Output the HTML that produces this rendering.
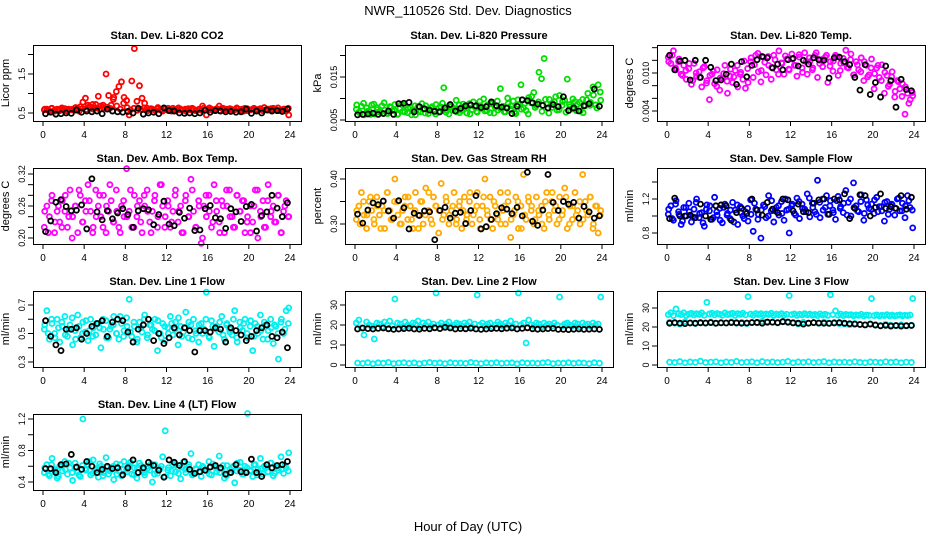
<!DOCTYPE html>
<html><head><meta charset="utf-8"><style>
body{margin:0;background:#fff}
svg{display:block;font-family:"Liberation Sans",sans-serif}
</style></head><body>
<svg id="chart" width="936" height="540" viewBox="0 0 936 540">
<text x="468" y="15" font-size="13" text-anchor="middle">NWR_110526  Std. Dev. Diagnostics</text>
<text x="468" y="531" font-size="13" text-anchor="middle">Hour of Day (UTC)</text>
</svg>
<script>
const xTicks=[0,4,8,12,16,20,24];
const co2Col=[0.58,0.6,0.55,0.62,0.57,0.6,0.56,0.59,0.61,0.55,0.58,0.6,0.57,0.62,0.66,0.78,0.88,0.7,0.65,0.6,0.72,0.93,0.68,0.64,1.5,0.95,0.7,0.9,1.05,1.18,1.3,0.9,0.82,0.45,1.32,2.15,0.8,1.2,0.88,0.75,0.62,0.58,0.6,0.57,0.61,0.58,0.55,0.6,0.57,0.59,0.62,0.56,0.58,0.6,0.57,0.55,0.61,0.58,0.6,0.56,0.59,0.57,0.62,0.45,0.58,0.6,0.57,0.61,0.68,0.62,0.58,0.6,0.56,0.59,0.58,0.61,0.57,0.6,0.62,0.56,0.58,0.6,0.57,0.59,0.61,0.56,0.58,0.6,0.57,0.62,0.59,0.56,0.58,0.6,0.55,0.45];
const co2ColB=[0.6,0.57,0.62,0.55,0.59,0.63,0.56,0.6,0.58,0.64,0.55,0.61,0.59,0.66,0.72,0.63,0.6,0.7,0.65,0.62,0.85,0.68,0.6,0.75,0.64,0.58,0.62,0.57,0.6,0.63,0.56,0.61,0.58,0.64,0.57,0.6,0.62,0.55,0.59,0.63,0.57,0.6,0.58,0.62,0.56,0.6,0.68,0.59,0.63,0.57,0.6,0.56,0.62,0.58,0.61,0.57,0.63,0.59,0.55,0.61,0.58,0.62,0.56,0.6,0.64,0.57,0.61,0.59,0.63,0.56,0.6,0.62];
const co2Blk=[0.48,0.52,0.47,0.48,0.5,0.49,0.58,0.52,0.55,0.53,0.55,0.48,0.6,0.55,0.53,0.52,0.54,0.5,0.62,0.47,0.5,0.52,0.48,0.63,0.56,0.55,0.5,0.49,0.5,0.48,0.5,0.57,0.52,0.56,0.55,0.53,0.54,0.52,0.53,0.6,0.49,0.55,0.5,0.58,0.55,0.56,0.54,0.6];
const presCol=[0.0075,0.0068,0.0082,0.0062,0.0078,0.0071,0.0085,0.0064,0.0079,0.0069,0.0083,0.0073,0.0066,0.0081,0.0072,0.0086,0.0063,0.0077,0.007,0.0084,0.0067,0.0079,0.0074,0.0062,0.0081,0.0069,0.0076,0.0083,0.0065,0.0078,0.0071,0.0086,0.0068,0.008,0.0125,0.0073,0.0064,0.0082,0.0077,0.0069,0.0085,0.0072,0.0079,0.0066,0.0088,0.0074,0.0081,0.0068,0.0093,0.0076,0.0071,0.0085,0.0067,0.0091,0.0079,0.0073,0.0123,0.0082,0.0069,0.0088,0.0075,0.0094,0.0065,0.0086,0.0132,0.0078,0.0072,0.0102,0.009,0.0114,0.0083,0.0161,0.0146,0.0193,0.0087,0.0098,0.0079,0.0092,0.0073,0.0107,0.0084,0.0096,0.0145,0.0081,0.0076,0.0093,0.0087,0.0071,0.0098,0.0083,0.0112,0.0091,0.0127,0.0085,0.0132,0.0096];
const presColB=[0.0085,0.0066,0.0089,0.007,0.0063,0.0087,0.0074,0.0068,0.009,0.0065,0.0079,0.0072,0.0064,0.0086,0.0069,0.0077,0.0062,0.0083,0.0071,0.0088,0.0066,0.0075,0.0081,0.0064,0.0079,0.0089,0.0068,0.0084,0.0073,0.0096,0.0067,0.0087,0.0078,0.0064,0.0092,0.007,0.0083,0.0099,0.0072,0.0088,0.0066,0.0094,0.0076,0.0069,0.0101,0.0083,0.0068,0.0097,0.0075,0.0089,0.0064,0.0105,0.0079,0.0092,0.007,0.0098,0.0066,0.0088,0.0104,0.0074,0.0093,0.0068,0.0086,0.0099,0.0072,0.0091,0.0067,0.0097,0.0084,0.0108,0.0078,0.0115];
const presBlk=[0.0062,0.0063,0.0064,0.0066,0.0063,0.0065,0.0071,0.0063,0.0088,0.0089,0.0091,0.0069,0.0081,0.0076,0.0073,0.007,0.0069,0.0078,0.0086,0.0071,0.0077,0.0083,0.0085,0.0083,0.0079,0.0081,0.0092,0.0083,0.008,0.0078,0.0065,0.0082,0.0097,0.0095,0.009,0.0087,0.0084,0.0078,0.0086,0.0081,0.0104,0.0072,0.0078,0.0071,0.0083,0.0088,0.0122,0.0082];
const tempCol=[0.0125,0.0115,0.0135,0.0105,0.0118,0.0098,0.0112,0.009,0.0107,0.0082,0.0115,0.0095,0.0102,0.0078,0.011,0.0088,0.0058,0.0098,0.0083,0.0105,0.0073,0.0092,0.0112,0.0068,0.0095,0.0085,0.0104,0.0078,0.0098,0.009,0.0076,0.0085,0.0118,0.0093,0.0128,0.0102,0.0086,0.0125,0.0097,0.0112,0.009,0.0128,0.0105,0.0135,0.0116,0.0098,0.0122,0.0105,0.013,0.0112,0.0095,0.0125,0.0108,0.0132,0.0098,0.0118,0.0105,0.0128,0.0093,0.012,0.011,0.0125,0.0085,0.0118,0.0103,0.0128,0.0096,0.0115,0.0123,0.0136,0.0108,0.013,0.0097,0.0118,0.0105,0.0124,0.0088,0.0112,0.0097,0.0122,0.0075,0.0108,0.0093,0.0113,0.0068,0.0096,0.0082,0.0102,0.0062,0.0088,0.0075,0.0083,0.0035,0.0068,0.0058,0.0064];
const tempColB=[0.0118,0.0128,0.0108,0.0122,0.0096,0.0104,0.0115,0.0088,0.01,0.0093,0.0108,0.0084,0.0096,0.0103,0.0079,0.0092,0.0099,0.0087,0.0106,0.0094,0.0112,0.0101,0.0119,0.0107,0.0124,0.0113,0.0131,0.0104,0.0117,0.0126,0.0109,0.0121,0.0098,0.0115,0.0127,0.0106,0.0122,0.0112,0.0129,0.0101,0.0118,0.0124,0.0108,0.0132,0.0115,0.0122,0.0128,0.0111,0.0119,0.0126,0.0104,0.0116,0.0109,0.0121,0.0097,0.0113,0.0102,0.0118,0.0094,0.0108,0.0099,0.0112,0.0088,0.0101,0.0079,0.0094,0.0071,0.0086,0.0063,0.0078,0.0052,0.0069];
const tempBlk=[0.0128,0.0105,0.0119,0.012,0.0089,0.012,0.0093,0.012,0.0109,0.0088,0.0089,0.0098,0.0114,0.0082,0.0118,0.0094,0.0112,0.0121,0.0126,0.0124,0.0108,0.0114,0.0105,0.0121,0.0123,0.0111,0.012,0.0114,0.0124,0.0121,0.012,0.0092,0.0124,0.0125,0.0118,0.0113,0.0093,0.0073,0.0113,0.0066,0.0085,0.0062,0.0111,0.0088,0.0046,0.009,0.0074,0.0072];
const ambCol=[0.22,0.26,0.24,0.28,0.21,0.25,0.23,0.27,0.25,0.22,0.29,0.24,0.26,0.21,0.28,0.23,0.27,0.3,0.25,0.22,0.29,0.26,0.24,0.28,0.21,0.25,0.27,0.23,0.29,0.22,0.26,0.24,0.33,0.25,0.22,0.28,0.24,0.27,0.21,0.26,0.29,0.23,0.25,0.28,0.22,0.3,0.26,0.24,0.27,0.22,0.25,0.29,0.23,0.26,0.21,0.28,0.24,0.31,0.25,0.22,0.27,0.19,0.26,0.24,0.28,0.22,0.3,0.25,0.23,0.27,0.21,0.26,0.29,0.24,0.22,0.28,0.25,0.27,0.21,0.24,0.26,0.23,0.29,0.2,0.25,0.27,0.22,0.3,0.24,0.26,0.23,0.28,0.21,0.25,0.27,0.24];
const ambColB=[0.25,0.21,0.27,0.23,0.26,0.22,0.28,0.24,0.2,0.26,0.29,0.23,0.25,0.27,0.21,0.24,0.28,0.22,0.26,0.3,0.23,0.25,0.21,0.27,0.24,0.29,0.22,0.26,0.23,0.28,0.25,0.21,0.27,0.24,0.3,0.22,0.26,0.23,0.28,0.25,0.21,0.27,0.24,0.29,0.22,0.26,0.2,0.28,0.25,0.23,0.27,0.21,0.26,0.29,0.24,0.22,0.28,0.25,0.27,0.23,0.21,0.26,0.29,0.24,0.22,0.27,0.25,0.23,0.28,0.21,0.26,0.24];
const ambBlk=[0.212,0.232,0.267,0.272,0.259,0.251,0.252,0.262,0.217,0.311,0.249,0.234,0.251,0.236,0.247,0.255,0.244,0.22,0.251,0.255,0.253,0.225,0.244,0.269,0.226,0.223,0.248,0.237,0.256,0.214,0.215,0.255,0.261,0.238,0.236,0.218,0.255,0.249,0.231,0.259,0.263,0.213,0.242,0.249,0.28,0.256,0.24,0.266];
const rhCol=[0.31,0.34,0.37,0.32,0.29,0.35,0.33,0.3,0.36,0.32,0.34,0.29,0.37,0.33,0.31,0.4,0.35,0.3,0.33,0.36,0.31,0.34,0.29,0.37,0.32,0.35,0.3,0.38,0.33,0.31,0.36,0.34,0.28,0.39,0.32,0.35,0.3,0.33,0.37,0.31,0.34,0.29,0.36,0.32,0.35,0.3,0.33,0.37,0.31,0.34,0.4,0.32,0.36,0.29,0.34,0.31,0.37,0.33,0.3,0.35,0.27,0.32,0.36,0.29,0.34,0.41,0.31,0.35,0.33,0.3,0.36,0.32,0.34,0.29,0.37,0.31,0.35,0.33,0.3,0.36,0.32,0.38,0.29,0.34,0.31,0.37,0.33,0.3,0.41,0.35,0.32,0.36,0.29,0.34,0.28,0.33];
const rhColB=[0.33,0.3,0.35,0.32,0.36,0.31,0.34,0.29,0.33,0.37,0.31,0.35,0.32,0.3,0.34,0.36,0.31,0.33,0.29,0.35,0.32,0.37,0.3,0.34,0.33,0.31,0.36,0.32,0.34,0.3,0.35,0.33,0.31,0.37,0.32,0.34,0.29,0.36,0.33,0.31,0.35,0.32,0.3,0.34,0.37,0.31,0.33,0.35,0.29,0.32,0.36,0.34,0.31,0.33,0.3,0.35,0.32,0.37,0.34,0.31,0.33,0.36,0.3,0.34,0.32,0.35,0.31,0.33,0.36,0.3,0.34,0.32];
const rhBlk=[0.322,0.302,0.331,0.347,0.343,0.351,0.329,0.313,0.352,0.336,0.289,0.324,0.319,0.329,0.327,0.265,0.33,0.337,0.313,0.324,0.326,0.301,0.33,0.363,0.289,0.294,0.31,0.323,0.336,0.333,0.323,0.337,0.318,0.415,0.306,0.297,0.331,0.41,0.348,0.33,0.35,0.344,0.348,0.313,0.339,0.327,0.313,0.318];
const flowCol=[1.02,1.12,0.95,1.18,1.05,0.9,1.1,1.0,1.15,0.93,1.08,1.2,0.98,1.04,0.88,1.13,1.06,0.96,1.22,1.01,1.09,0.92,1.14,1.03,0.97,1.16,1.07,0.9,1.11,1.0,1.05,0.94,1.19,0.82,1.08,1.02,0.74,1.13,0.98,1.24,1.06,0.93,1.1,1.01,1.17,0.95,1.07,0.8,1.12,1.03,1.21,0.97,1.14,1.08,1.26,0.99,1.15,1.05,1.42,0.98,1.2,1.1,1.02,1.18,1.07,0.96,1.23,1.11,1.04,1.3,1.16,1.0,1.39,1.12,1.05,1.25,0.95,1.19,1.09,1.14,1.03,1.22,1.11,1.06,0.94,1.17,1.08,1.13,1.01,1.2,1.06,1.15,0.98,1.24,1.1,0.86];
const flowColB=[1.08,0.97,1.14,1.02,0.94,1.1,1.05,0.99,1.16,1.03,0.92,1.08,1.12,0.98,1.05,0.95,1.1,1.01,1.07,0.93,1.13,1.04,0.97,1.09,1.02,1.15,0.96,1.07,1.11,1.0,1.18,1.06,1.12,1.03,1.2,1.08,1.14,1.01,1.17,1.09,1.05,1.21,1.1,1.02,1.16,1.07,1.24,1.12,1.04,1.18,1.09,1.15,1.01,1.2,1.1,1.06,1.17,1.03,1.13,1.08,1.19,1.05,1.11,1.16,1.02,1.14,1.09,1.21,1.06,1.12,1.18,1.07];
const flowBlk=[0.97,1.21,1.0,1.0,1.01,0.98,1.14,1.0,0.96,1.12,1.13,1.12,0.95,1.04,1.09,1.03,1.2,1.07,1.01,1.16,1.08,1.04,1.2,1.19,1.06,1.14,1.05,1.04,1.15,1.19,1.2,1.02,1.2,1.19,1.26,0.97,1.09,1.25,1.24,1.0,1.1,1.26,1.09,1.11,1.09,1.24,1.08,1.22];
const line1Col=[0.53,0.66,0.46,0.57,0.5,0.6,0.44,0.55,0.62,0.48,0.56,0.42,0.52,0.63,0.47,0.58,0.51,0.45,0.6,0.54,0.49,0.57,0.4,0.53,0.59,0.47,0.55,0.62,0.5,0.46,0.57,0.52,0.61,0.74,0.48,0.55,0.44,0.58,0.51,0.63,0.47,0.56,0.53,0.6,0.38,0.5,0.57,0.45,0.54,0.62,0.49,0.58,0.42,0.55,0.51,0.65,0.47,0.56,0.6,0.5,0.44,0.57,0.53,0.79,0.48,0.59,0.41,0.55,0.51,0.62,0.46,0.57,0.53,0.49,0.66,0.44,0.58,0.52,0.6,0.47,0.55,0.38,0.57,0.5,0.63,0.46,0.56,0.52,0.6,0.43,0.55,0.32,0.58,0.5,0.66,0.68];
const line1ColB=[0.56,0.5,0.6,0.47,0.54,0.58,0.49,0.53,0.61,0.46,0.55,0.5,0.59,0.52,0.48,0.57,0.54,0.6,0.47,0.53,0.56,0.5,0.62,0.48,0.55,0.51,0.58,0.46,0.54,0.6,0.49,0.56,0.52,0.59,0.47,0.55,0.5,0.57,0.53,0.61,0.48,0.54,0.58,0.46,0.52,0.56,0.5,0.6,0.47,0.55,0.53,0.58,0.49,0.56,0.51,0.6,0.47,0.54,0.57,0.5,0.59,0.48,0.55,0.52,0.58,0.46,0.54,0.56,0.5,0.6,0.53,0.57];
const line1Blk=[0.59,0.48,0.42,0.38,0.53,0.53,0.54,0.46,0.5,0.55,0.57,0.59,0.48,0.58,0.6,0.59,0.51,0.44,0.53,0.56,0.6,0.45,0.5,0.43,0.47,0.54,0.49,0.54,0.52,0.37,0.52,0.52,0.51,0.54,0.53,0.44,0.54,0.52,0.49,0.45,0.48,0.52,0.54,0.56,0.48,0.47,0.51,0.4];
const line2Hi=[21,22.5,18.5,15,21.5,20,19.5,13,21,20.5,19,21.5,20,22,19.5,33,21,20.5,19,21.5,20,19.5,21,20.5,22,19,21,20,21.5,19.5,20.5,36,20,21,19.5,20.5,21.5,19,20,21,20.5,19.5,21,20,21.5,19,20.5,35,20,21,19.5,20.5,21,19,20,21.5,20.5,19.5,21,20,22,19,20.5,36,20,21,11,22.5,20,19.5,21,20.5,19,21,20,20.5,19.5,21,20,34,19.5,20.5,21,20,19.5,21,20.5,19,21,20,20.5,19.5,21,20,20.5,34];
const line2Lo=[1,0.8,1.2,0.6,1.1,0.9,1.3,0.7,1,1.2,0.8,1.1,0.6,1,1.3,0.9,1.1,0.7,1.2,0.9,1,0.8,1.3,1,0.7,1.1,0.9,1.2,0.8,1,1.1,0.6,1.2,0.9,1,0.8,1.1,1.3,0.7,1,0.9,1.2,0.8,1.1,1,0.7,1.2,0.9];
const line2Blk=[18,18.5,18.2,18,18.3,18.5,18.1,17.8,18,18.2,18.4,18,17.9,18.3,18.1,18.6,18.2,18.8,18.5,18,18.2,18.1,18.4,18,17.8,18,18.2,18.3,18.1,18.4,18.5,18,18.3,18.6,18.1,17.9,18,18.2,18.3,17.8,17.8,17.7,17.9,18,17.8,17.9,18,17.8];
const line3Hi=[26.5,27.5,26,29.5,27,26.5,27.5,26,26.8,27.2,26.3,27,26.6,27.4,26.2,33,26.9,27.3,26.4,27.1,26.7,26.2,27.4,26.5,26.9,27.2,26.1,27,26.6,27.3,26.4,36,26.8,26.2,27.1,26.5,27,26.3,26.9,26.6,27.2,26.1,26.8,26.4,27,26.2,26.7,36.5,26.5,26.9,26.1,26.7,26.3,27,26.4,26.8,26.2,26.6,26,26.9,26.3,26.7,26.1,37,26.5,28.5,26.2,26.8,26,26.6,26.3,26.5,25.9,26.4,26.1,26.7,25.8,26.3,26.1,35,26,26.4,25.8,26.2,26,26.5,25.9,26.3,25.8,26.1,26.4,25.9,26.2,26,26.3,35];
const line3Mid=[22.5,22,21.5,22.8,22.2,21.8,22.4,22,22.6,21.9,22.3,22.1,22.7,22,22.4,21.8,22.5,22.2,23,22.3,22.6,22.1,22.8,22.4,22.2,21.6,22.5,22,22.3,21.9,22.6,22.1,22.4,21.8,21.6,21.2,21.9,21.4,21.1,21.7,21.3,20.8,21.4,21,20.7,21.2,20.6,21];
const line3Lo=[1.5,1.3,1.8,1.2,1.6,1.4,2,1.3,1.5,1.7,1.2,1.6,1.4,1.9,1.3,1.5,1.7,1.2,1.8,1.4,1.6,1.3,1.5,1.9,1.2,1.6,1.4,1.7,1.3,1.5,1.8,1.2,1.6,1.4,1.5,1.3,1.7,1.4,1.2,1.6,1.5,1.3,1.7,1.4,1.6,1.2,1.5,1.4];
const line3Blk=[22,22.3,22,21.8,22.1,22,22.2,22.1,22.3,22,22.2,22.1,22.3,22.2,22,22.1,22.3,22.4,22,22.6,22.5,22.3,22.8,22.6,22.2,22,21.5,22,22.3,22.1,22,21.9,22.1,22.3,22,21.7,21.5,21.3,21.1,21.5,21,20.6,20.9,20.5,20.8,20.5,20.7,20.8];
const line4Col=[0.52,0.62,0.48,0.7,0.56,0.45,0.6,0.54,0.66,0.5,0.58,0.42,0.64,0.53,0.47,1.2,0.57,0.62,0.49,0.68,0.55,0.46,0.6,0.52,0.71,0.5,0.57,0.43,0.63,0.54,0.48,0.66,0.56,0.61,0.5,0.58,0.45,0.64,0.53,0.49,0.6,0.55,0.4,0.62,0.51,0.57,0.72,1.05,0.55,0.48,0.62,0.53,0.58,0.44,0.65,0.52,0.59,0.76,0.5,0.56,0.62,0.47,0.58,0.54,0.66,0.49,0.6,0.53,0.73,0.57,0.45,0.61,0.52,0.58,0.39,0.64,0.55,0.5,0.6,1.27,0.54,0.47,0.62,0.56,0.7,0.5,0.58,0.53,0.64,0.48,0.6,0.55,0.72,0.51,0.58,0.77];
const line4ColB=[0.58,0.5,0.62,0.54,0.47,0.6,0.56,0.64,0.52,0.58,0.49,0.61,0.55,0.66,0.51,0.57,0.63,0.48,0.59,0.54,0.6,0.5,0.62,0.56,0.53,0.65,0.49,0.58,0.61,0.52,0.57,0.63,0.5,0.55,0.6,0.47,0.58,0.54,0.64,0.51,0.59,0.56,0.62,0.49,0.57,0.53,0.6,0.55,0.5,0.63,0.58,0.52,0.61,0.48,0.56,0.6,0.54,0.65,0.5,0.58,0.55,0.62,0.49,0.57,0.6,0.53,0.64,0.51,0.58,0.56,0.61,0.54];
const line4Blk=[0.57,0.57,0.52,0.62,0.63,0.75,0.59,0.56,0.66,0.6,0.52,0.56,0.6,0.57,0.58,0.49,0.58,0.68,0.52,0.58,0.65,0.61,0.55,0.46,0.68,0.65,0.61,0.66,0.56,0.51,0.53,0.55,0.59,0.61,0.58,0.5,0.52,0.62,0.53,0.52,0.69,0.52,0.47,0.62,0.58,0.61,0.62,0.66];

const panels=[
 {c:0,r:0,t:"Stan. Dev. Li-820 CO2",yl:"Licor ppm",v1:0.5,p1:113,v2:1.5,p2:74,ticks:[0.5,1.0,1.5,2.0],labs:["0.5","","1.5",""],s:[[co2Col,"#ff0000"],[co2ColB,"#ff0000"],[co2Blk,"#000"]]},
 {c:1,r:0,t:"Stan. Dev. Li-820 Pressure",yl:"kPa",v1:0.005,p1:120,v2:0.015,p2:77,ticks:[0.005,0.010,0.015,0.020],labs:["0.005","","0.015",""],s:[[presCol,"#00dd00"],[presColB,"#00dd00"],[presBlk,"#000"]]},
 {c:2,r:0,t:"Stan. Dev. Li-820 Temp.",yl:"degrees C",v1:0.004,p1:111,v2:0.010,p2:73,ticks:[0.004,0.006,0.008,0.010,0.012,0.014],labs:["0.004","","","0.010","",""],s:[[tempCol,"#ff00ff"],[tempColB,"#ff00ff"],[tempBlk,"#000"]]},
 {c:0,r:1,t:"Stan. Dev. Amb. Box Temp.",yl:"degrees C",v1:0.20,p1:238,v2:0.32,p2:174,ticks:[0.20,0.22,0.24,0.26,0.28,0.30,0.32],labs:["0.20","","","0.26","","","0.32"],s:[[ambCol,"#ff00ff"],[ambColB,"#ff00ff"],[ambBlk,"#000"]]},
 {c:1,r:1,t:"Stan. Dev. Gas Stream RH",yl:"percent",v1:0.30,p1:224,v2:0.40,p2:179,ticks:[0.30,0.35,0.40],labs:["0.30","","0.40"],s:[[rhCol,"#ffa500"],[rhColB,"#ffb000"],[rhBlk,"#000"]]},
 {c:2,r:1,t:"Stan. Dev. Sample Flow",yl:"ml/min",v1:0.8,p1:233,v2:1.2,p2:199,ticks:[0.8,1.0,1.2,1.4],labs:["0.8","","1.2",""],s:[[flowCol,"#0000ff"],[flowColB,"#0000ff"],[flowBlk,"#000"]]},
 {c:0,r:2,t:"Stan. Dev. Line 1 Flow",yl:"ml/min",v1:0.3,p1:362,v2:0.7,p2:305,ticks:[0.3,0.4,0.5,0.6,0.7],labs:["0.3","","0.5","","0.7"],s:[[line1Col,"#00f0f0"],[line1ColB,"#00f0f0"],[line1Blk,"#000"]]},
 {c:1,r:2,t:"Stan. Dev. Line 2 Flow",yl:"ml/min",v1:0,p1:365,v2:30,p2:305,ticks:[0,10,20,30],labs:["0","10","20","30"],s:[[line2Hi,"#00f0f0"],[line2Lo,"#00f0f0"],[line2Blk,"#000"]]},
 {c:2,r:2,t:"Stan. Dev. Line 3 Flow",yl:"ml/min",v1:0,p1:365,v2:30,p2:308,ticks:[0,10,20,30],labs:["0","10","20","30"],s:[[line3Hi,"#00f0f0"],[line3Mid,"#00f0f0"],[line3Lo,"#00f0f0"],[line3Blk,"#000"]]},
 {c:0,r:3,t:"Stan. Dev. Line 4 (LT) Flow",yl:"ml/min",v1:0.4,p1:482,v2:1.2,p2:419,ticks:[0.4,0.6,0.8,1.0,1.2],labs:["0.4","","0.8","","1.2"],s:[[line4Col,"#00f0f0"],[line4ColB,"#00f0f0"],[line4Blk,"#000"]]}
];
const NS="http://www.w3.org/2000/svg";
const svg=document.getElementById('chart');
function mk(tag,attrs,parent){const e=document.createElementNS(NS,tag);for(const k in attrs)e.setAttribute(k,attrs[k]);parent.appendChild(e);return e;}
panels.forEach((p,pi)=>{
 const L=33+p.c*312,R=L+268,T=45+p.r*123,B=T+76;
 const g=mk('g',{},svg);
 
 
 const xs=h=>43+p.c*312+h*(247/24);
 const ys=v=>p.p1+(v-p.v1)*(p.p2-p.p1)/(p.v2-p.v1);
 const t=mk('text',{x:(L+R)/2,y:T-6,'font-size':11,'font-weight':'bold','text-anchor':'middle'},g);t.textContent=p.t;
 
 
 const yl=mk('text',{x:0,y:0,'font-size':11,'text-anchor':'middle',transform:`translate(${L-24},${(T+B)/2}) rotate(-90)`},g);yl.textContent=p.yl;
 
 
 xTicks.forEach(h=>{const x=xs(h);mk('line',{x1:x,x2:x,y1:B,y2:B+5,stroke:'#000'},g);
  const tx=mk('text',{x:x,y:B+17,'font-size':10,'text-anchor':'middle'},g);tx.textContent=h;
  
  });
 mk('line',{x1:xs(0),x2:xs(24),y1:B+0.5,y2:B+0.5,stroke:'#000'},g);
 p.ticks.forEach((v,i)=>{const y=ys(v);mk('line',{x1:L-5,x2:L,y1:y,y2:y,stroke:'#000'},g);
  if(p.labs[i]){const tx=mk('text',{x:0,y:0,'font-size':9,'text-anchor':'middle',transform:`translate(${L-8},${y}) rotate(-90)`},g);tx.textContent=p.labs[i];
  
  }});
 const pts=mk('g',{},g);
 p.s.forEach(([vals,col])=>{vals.forEach((v,i)=>{const h=24*(i+0.5)/vals.length;
  const c=mk('circle',{cx:xs(h),cy:ys(v),r:2.5,fill:'none',stroke:col,'stroke-width':1.8},pts);
  
  });});
 const box=mk('rect',{x:L+0.5,y:T+0.5,width:R-L,height:B-T,fill:'none',stroke:'#000'},g);
 
 
});
</script>
</body></html>
